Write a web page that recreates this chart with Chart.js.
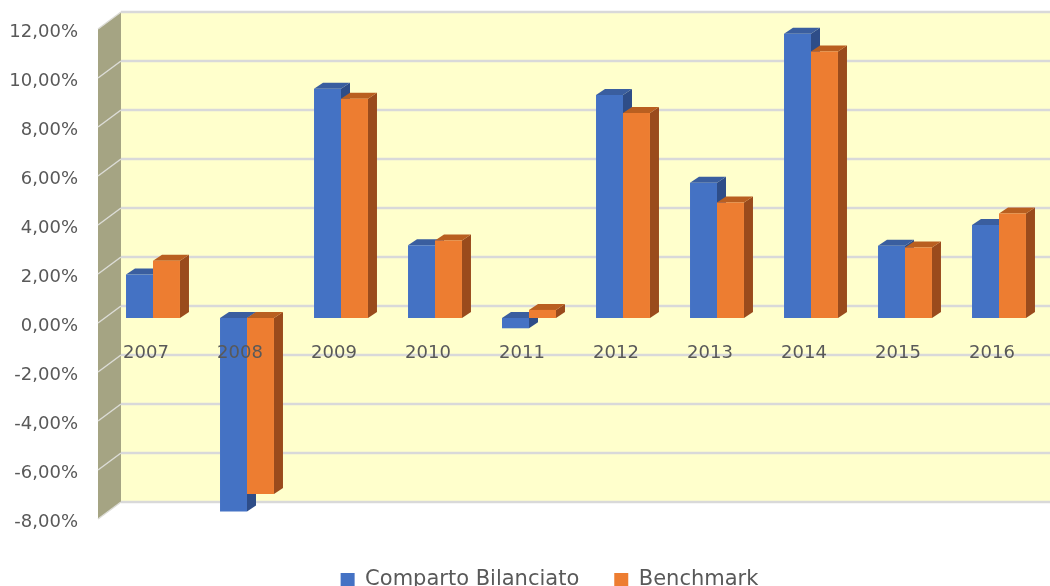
<!DOCTYPE html>
<html><head><meta charset="utf-8">
<script src="https://cdn.jsdelivr.net/npm/chart.js@4.4.1/dist/chart.umd.min.js"></script>
<style>html,body{margin:0;padding:0;background:#fff;overflow:hidden;width:1050px;height:586px}canvas{display:block}</style>
</head><body>
<canvas id="c" width="1050" height="586"></canvas>
<script>
const categories = ['2007','2008','2009','2010','2011','2012','2013','2014','2015','2016'];
const compartoBilanciato = [1.78, -7.90, 9.36, 2.97, -0.42, 9.10, 5.52, 11.60, 2.95, 3.80];
const benchmark = [2.34, -7.18, 8.95, 3.16, 0.33, 8.37, 4.71, 10.88, 2.88, 4.27];
const seriesNames = ['Comparto Bilanciato', 'Benchmark'];
const yMin = -8, yMax = 12, yStep = 2;

const DEPTH = { bar: [9, -6], back: [15, -12], front: [-8, 5] };
const FONT = 'DejaVu Sans';
const TEXT = '#595959';

function poly(ctx, pts) {
  ctx.beginPath();
  ctx.moveTo(pts[0][0], pts[0][1]);
  for (let i = 1; i < pts.length; i++) ctx.lineTo(pts[i][0], pts[i][1]);
  ctx.closePath();
}

const wall3d = {
  id: 'wall3d',
  beforeDatasetsDraw(chart) {
    const { ctx, chartArea: ca, scales: { y } } = chart;
    const yT = y.getPixelForValue(y.max), yB = y.getPixelForValue(y.min);
    const bx = ca.left + DEPTH.back[0], by = DEPTH.back[1];
    const fx = ca.left + DEPTH.front[0], fy = DEPTH.front[1];
    ctx.save();
    ctx.fillStyle = '#FFFFCC';
    ctx.fillRect(bx, yT + by, chart.width - bx, yB - yT);
    ctx.fillStyle = '#A5A483';
    poly(ctx, [[fx, yT + fy], [bx, yT + by], [bx, yB + by], [fx, yB + fy]]);
    ctx.fill();
    y.ticks.forEach(t => {
      const py = y.getPixelForValue(t.value);
      ctx.strokeStyle = '#D9D9D9'; ctx.lineWidth = 2.5;
      ctx.beginPath(); ctx.moveTo(bx, py + by); ctx.lineTo(chart.width, py + by); ctx.stroke();
      ctx.strokeStyle = '#DCDCD6'; ctx.lineWidth = 1.5;
      ctx.beginPath(); ctx.moveTo(fx, py + fy); ctx.lineTo(bx, py + by); ctx.stroke();
    });
    const metas = chart.data.datasets.map((d, i) => chart.getDatasetMeta(i));
    const n = chart.data.labels.length;
    const [dx, dy] = DEPTH.bar;
    for (let i = 0; i < n; i++) {
      metas.forEach((m, di) => {
        const el = m.data[i]; if (!el) return;
        const p = el.getProps(['x', 'y', 'base', 'width'], true);
        const L = p.x - p.width / 2, R = p.x + p.width / 2;
        const T = Math.min(p.y, p.base), B = Math.max(p.y, p.base);
        const ds = chart.data.datasets[di];
        ctx.fillStyle = ds.sideColor;
        poly(ctx, [[R, T], [R + dx, T + dy], [R + dx, B + dy], [R, B]]); ctx.fill();
        ctx.fillStyle = ds.topColor;
        poly(ctx, [[L, T], [L + dx, T + dy], [R + dx, T + dy], [R, T]]); ctx.fill();
      });
    }
    ctx.restore();
  }
};

function noPad(s) { s.paddingTop = 0; s.paddingBottom = 0; s.paddingLeft = 0; s.paddingRight = 0; }

new Chart(document.getElementById('c'), {
  type: 'bar',
  data: {
    labels: categories,
    datasets: [
      { label: seriesNames[0], data: compartoBilanciato, backgroundColor: '#4472C4', topColor: '#3A5E9F', sideColor: '#2E4D88', borderWidth: 0 },
      { label: seriesNames[1], data: benchmark, backgroundColor: '#ED7D31', topColor: '#B95F20', sideColor: '#9A4B1C', borderWidth: 0 }
    ]
  },
  options: {
    responsive: false, animation: false, devicePixelRatio: 1,
    categoryPercentage: 0.574, barPercentage: 1.0,
    layout: { padding: { top: 24, left: 4, right: -45, bottom: -14.5 } },
    plugins: {
      legend: {
        position: 'bottom',
        labels: { color: TEXT, font: { family: FONT, size: 21 }, boxWidth: 14, boxHeight: 14, padding: 35 }
      },
      tooltip: { enabled: false }
    },
    scales: {
      x: {
        type: 'category', position: { y: 0 }, offset: true,
        grid: { display: false, drawTicks: false }, border: { display: false },
        ticks: { z: 1, labelOffset: -7, padding: 25, color: TEXT, font: { family: FONT, size: 18 }, maxRotation: 0, autoSkip: false },
        afterFit: noPad
      },
      spacer: {
        axis: 'x', type: 'category', position: 'bottom',
        grid: { display: false, drawTicks: false }, border: { display: false },
        ticks: { display: false },
        afterFit(s) { s.height = 20.5; noPad(s); }
      },
      spacerRight: {
        axis: 'y', type: 'linear', position: 'right',
        grid: { display: false, drawTicks: false }, border: { display: false },
        ticks: { display: false },
        afterFit(s) { s.width = 49; noPad(s); }
      },
      y: {
        min: yMin, max: yMax,
        grid: { display: false, drawTicks: false }, border: { display: false },
        ticks: {
          stepSize: yStep, padding: 28, labelOffset: 8.5, color: TEXT, font: { family: FONT, size: 18 },
          callback: v => v.toFixed(2).replace('.', ',') + '%'
        },
        afterFit(s) { s.width = 102; noPad(s); }
      }
    }
  },
  plugins: [wall3d]
});
</script>
</body></html>
